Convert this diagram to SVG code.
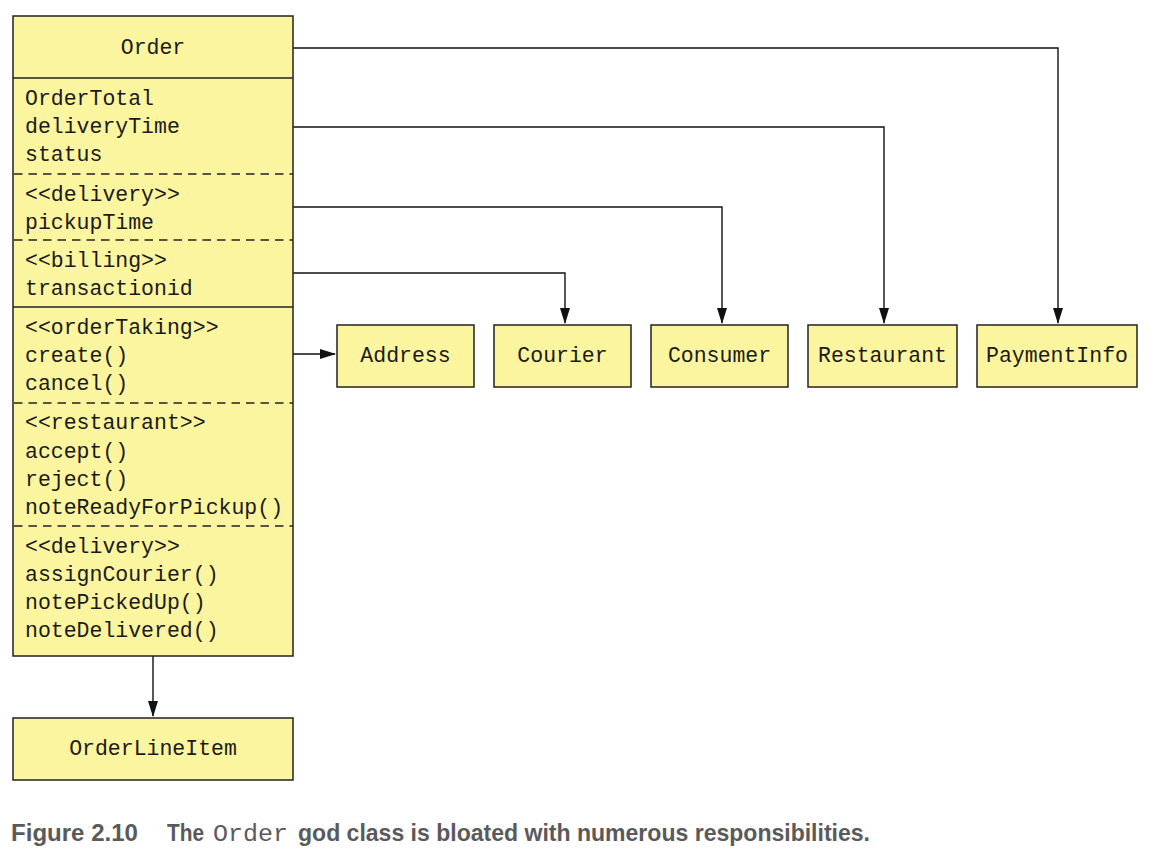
<svg xmlns="http://www.w3.org/2000/svg" width="1155" height="861" viewBox="0 0 1155 861">
<style>
.box{fill:#fcf5a0;stroke:#222;stroke-width:1.5}
.sep{stroke:#222;stroke-width:1.5}
.dash{stroke:#222;stroke-width:1.5;stroke-dasharray:8.5,6}
.t{font-family:"Liberation Mono","Courier New",monospace;font-size:21.5px;fill:#1a1a1a}
.c{text-anchor:middle}
.edge{fill:none;stroke:#111;stroke-width:1.4}
.cap{font-family:"Liberation Sans",Arial,sans-serif;font-weight:bold;font-size:24.5px;fill:#5a5a5a}
.capm{font-family:"Liberation Mono","Courier New",monospace;font-size:24px;fill:#5a5a5a}
</style>
<defs>
<marker id="arr" markerWidth="16" markerHeight="10" refX="15" refY="5" orient="auto" markerUnits="userSpaceOnUse">
<path d="M0,0 L16,5 L0,10 Z" fill="#111"/>
</marker>
</defs>
<rect width="1155" height="861" fill="#fff"/>
<g id="connectors">
<path class="edge" d="M293,48 H1058 V323" marker-end="url(#arr)"/>
<path class="edge" d="M293,127 H884 V323" marker-end="url(#arr)"/>
<path class="edge" d="M293,207 H722 V323" marker-end="url(#arr)"/>
<path class="edge" d="M293,273 H565 V323" marker-end="url(#arr)"/>
<path class="edge" d="M293,354 H335" marker-end="url(#arr)"/>
<path class="edge" d="M153,656 V716" marker-end="url(#arr)"/>
</g>
<g id="order">
<rect class="box" x="13" y="16" width="280" height="640"/>
<line class="sep" x1="13" y1="78" x2="293" y2="78"/>
<line class="dash" x1="14" y1="174" x2="293" y2="174"/>
<line class="dash" x1="14" y1="240" x2="293" y2="240"/>
<line class="sep" x1="13" y1="307" x2="293" y2="307"/>
<line class="dash" x1="14" y1="403" x2="293" y2="403"/>
<line class="dash" x1="14" y1="526" x2="293" y2="526"/>
<text class="t c" x="153" y="54">Order</text>
<text class="t" x="25" y="105">OrderTotal</text>
<text class="t" x="25" y="133">deliveryTime</text>
<text class="t" x="25" y="161">status</text>
<text class="t" x="25" y="201">&lt;&lt;delivery&gt;&gt;</text>
<text class="t" x="25" y="229">pickupTime</text>
<text class="t" x="25" y="267">&lt;&lt;billing&gt;&gt;</text>
<text class="t" x="25" y="295">transactionid</text>
<text class="t" x="25" y="334">&lt;&lt;orderTaking&gt;&gt;</text>
<text class="t" x="25" y="362">create()</text>
<text class="t" x="25" y="390">cancel()</text>
<text class="t" x="25" y="429">&lt;&lt;restaurant&gt;&gt;</text>
<text class="t" x="25" y="458">accept()</text>
<text class="t" x="25" y="486">reject()</text>
<text class="t" x="25" y="514">noteReadyForPickup()</text>
<text class="t" x="25" y="553">&lt;&lt;delivery&gt;&gt;</text>
<text class="t" x="25" y="581">assignCourier()</text>
<text class="t" x="25" y="609">notePickedUp()</text>
<text class="t" x="25" y="637">noteDelivered()</text>
</g>
<g id="address">
<rect class="box" x="337" y="325" width="137" height="62"/>
<text class="t c" x="405.5" y="362">Address</text>
</g>
<g id="courier">
<rect class="box" x="494" y="325" width="137" height="62"/>
<text class="t c" x="562.5" y="362">Courier</text>
</g>
<g id="consumer">
<rect class="box" x="651" y="325" width="137" height="62"/>
<text class="t c" x="719.5" y="362">Consumer</text>
</g>
<g id="restaurant">
<rect class="box" x="808" y="325" width="149" height="62"/>
<text class="t c" x="882.5" y="362">Restaurant</text>
</g>
<g id="paymentinfo">
<rect class="box" x="977" y="325" width="160" height="62"/>
<text class="t c" x="1057" y="362">PaymentInfo</text>
</g>
<g id="orderlineitem">
<rect class="box" x="13" y="718" width="280" height="62"/>
<text class="t c" x="153" y="755">OrderLineItem</text>
</g>
<g id="caption">
<text class="cap" x="11" y="841" textLength="127" lengthAdjust="spacingAndGlyphs">Figure 2.10</text>
<text class="cap" x="167" y="841" textLength="37" lengthAdjust="spacingAndGlyphs">The</text>
<text class="capm" x="213" y="841" textLength="75" lengthAdjust="spacingAndGlyphs">Order</text>
<text class="cap" x="298" y="841" textLength="572" lengthAdjust="spacingAndGlyphs">god class is bloated with numerous responsibilities.</text>
</g>
</svg>
